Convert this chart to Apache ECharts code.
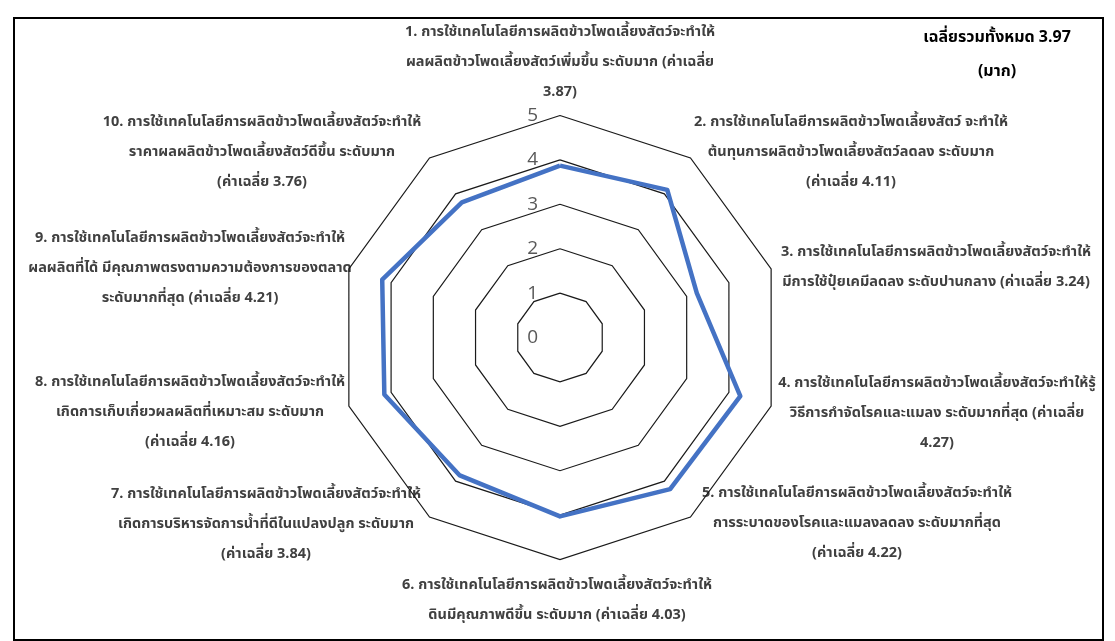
<!DOCTYPE html>
<html><head><meta charset="utf-8">
<script src="https://cdn.jsdelivr.net/npm/echarts@6/dist/echarts.min.js"></script>
<style>html,body{margin:0;padding:0;background:#fff}#c{width:1115px;height:641px}</style>
</head><body><div id="c"></div>
<script>
// Data (natural order, clockwise from top)
const itemLabels = [
  ['1. การใช้เทคโนโลยีการผลิตข้าวโพดเลี้ยงสัตว์จะทำให้','ผลผลิตข้าวโพดเลี้ยงสัตว์เพิ่มขึ้น ระดับมาก (ค่าเฉลี่ย','3.87)'],
  ['2. การใช้เทคโนโลยีการผลิตข้าวโพดเลี้ยงสัตว์ จะทำให้','ต้นทุนการผลิตข้าวโพดเลี้ยงสัตว์ลดลง ระดับมาก','(ค่าเฉลี่ย 4.11)'],
  ['3. การใช้เทคโนโลยีการผลิตข้าวโพดเลี้ยงสัตว์จะทำให้','มีการใช้ปุ๋ยเคมีลดลง ระดับปานกลาง (ค่าเฉลี่ย 3.24)'],
  ['4. การใช้เทคโนโลยีการผลิตข้าวโพดเลี้ยงสัตว์จะทำให้รู้','วิธีการกำจัดโรคและแมลง ระดับมากที่สุด (ค่าเฉลี่ย','4.27)'],
  ['5. การใช้เทคโนโลยีการผลิตข้าวโพดเลี้ยงสัตว์จะทำให้','การระบาดของโรคและแมลงลดลง ระดับมากที่สุด','(ค่าเฉลี่ย 4.22)'],
  ['6. การใช้เทคโนโลยีการผลิตข้าวโพดเลี้ยงสัตว์จะทำให้','ดินมีคุณภาพดีขึ้น ระดับมาก (ค่าเฉลี่ย 4.03)'],
  ['7. การใช้เทคโนโลยีการผลิตข้าวโพดเลี้ยงสัตว์จะทำให้','เกิดการบริหารจัดการน้ำที่ดีในแปลงปลูก ระดับมาก','(ค่าเฉลี่ย 3.84)'],
  ['8. การใช้เทคโนโลยีการผลิตข้าวโพดเลี้ยงสัตว์จะทำให้','เกิดการเก็บเกี่ยวผลผลิตที่เหมาะสม ระดับมาก','(ค่าเฉลี่ย 4.16)'],
  ['9. การใช้เทคโนโลยีการผลิตข้าวโพดเลี้ยงสัตว์จะทำให้','ผลผลิตที่ได้ มีคุณภาพตรงตามความต้องการของตลาด','ระดับมากที่สุด (ค่าเฉลี่ย 4.21)'],
  ['10. การใช้เทคโนโลยีการผลิตข้าวโพดเลี้ยงสัตว์จะทำให้','ราคาผลผลิตข้าวโพดเลี้ยงสัตว์ดีขึ้น ระดับมาก','(ค่าเฉลี่ย 3.76)']
];
const meanValues = [3.87, 4.11, 3.24, 4.27, 4.22, 4.03, 3.84, 4.16, 4.21, 3.76];
const tickLabels = ['0','1','2','3','4','5'];
const summaryText = ['เฉลี่ยรวมทั้งหมด 3.97', '(มาก)'];

// Layout (label anchor centres, px)
const labelPos = [
  [560, 33], [851, 123], [936, 253], [937, 384], [857, 494],
  [557, 586], [266, 495], [190, 383], [190, 239], [262, 123]
];
const LINE_H = 30;
const CX = 560, CY = 337.5, R = 222;
const FONT = 'Tahoma, "Noto Sans Thai", "Noto Sans", sans-serif';

// ECharts radar goes counter-clockwise; reorder so items run clockwise.
const order = [0].concat(Array.from({length: meanValues.length - 1}, (_, i) => meanValues.length - 1 - i));
const indicators = order.map(() => ({ name: '', min: 0, max: 5 }));
const radarValues = order.map(i => meanValues[i]);

const graphics = [];
graphics.push({ type: 'rect', shape: { x: 14, y: 18, width: 1089, height: 622 },
  style: { fill: 'none', stroke: '#000', lineWidth: 2 }, silent: true });
itemLabels.forEach((lines, i) => {
  lines.forEach((t, j) => {
    graphics.push({ type: 'text', x: labelPos[i][0], y: labelPos[i][1] + j * LINE_H,
      style: { text: t, fill: '#404040', font: 'bold 14.5px ' + FONT, textAlign: 'center', textVerticalAlign: 'middle' } });
  });
});
summaryText.forEach((t, j) => {
  graphics.push({ type: 'text', x: 997, y: 39 + j * 34,
    style: { text: t, fill: '#000', font: 'bold 16px ' + FONT, textAlign: 'center', textVerticalAlign: 'middle' } });
});

const chart = echarts.init(document.getElementById('c'), null, { renderer: 'canvas' });
chart.setOption({
  animation: false,
  backgroundColor: '#fff',
  radar: {
    center: [CX, CY], radius: R, startAngle: 90, shape: 'polygon', splitNumber: 5,
    indicator: indicators,
    axisName: { show: false },
    axisLine: { show: false },
    axisTick: { show: false },
    axisLabel: { show: false },
    splitLine: { lineStyle: { color: '#1a1a1a', width: 1.2 } },
    splitArea: { show: false }
  },
  polar: { center: [CX, CY], radius: R },
  angleAxis: { show: false, startAngle: 90, min: 0, max: 360 },
  radiusAxis: {
    type: 'value', min: 0, max: 5, interval: 1,
    axisLine: { show: false }, axisTick: { show: false }, splitLine: { show: false },
    axisLabel: { show: true, color: '#595959', fontSize: 19, fontFamily: '"Open Sans", sans-serif',
      margin: 22, formatter: v => tickLabels[v] }
  },
  series: [{
    type: 'radar', symbol: 'none',
    lineStyle: { color: '#4472C4', width: 4.5 },
    data: [{ value: radarValues }]
  }],
  graphic: graphics
});
</script></body></html>
